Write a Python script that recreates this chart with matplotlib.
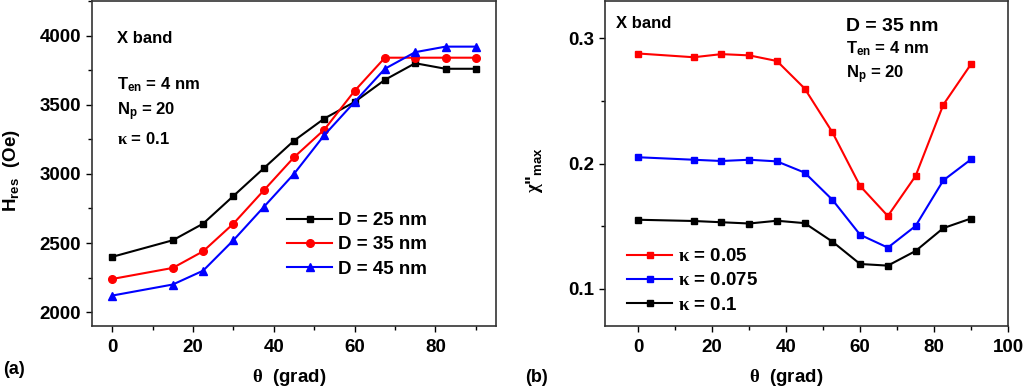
import matplotlib
matplotlib.use("Agg")
import matplotlib.pyplot as plt
from matplotlib.ticker import MultipleLocator

plt.rcParams['font.family'] = ['Liberation Sans', 'DejaVu Sans']
plt.rcParams['font.weight'] = 'bold'
plt.rcParams['mathtext.fontset'] = 'custom'
plt.rcParams['mathtext.rm'] = 'Liberation Serif'
plt.rcParams['mathtext.sf'] = 'Liberation Sans'
plt.rcParams['mathtext.bf'] = 'Liberation Sans:bold'
plt.rcParams['mathtext.default'] = 'bf'

# angles (degrees)
theta = [0, 15, 22.5, 30, 37.5, 45, 52.5, 60, 67.5, 75, 82.5, 90]

# panel (a): resonance field vs angle
h_d25 = [2400, 2520, 2640, 2840, 3040, 3240, 3400, 3520, 3680, 3800, 3760, 3760]
h_d35 = [2240, 2320, 2440, 2640, 2880, 3120, 3320, 3600, 3840, 3840, 3840, 3840]
h_d45 = [2120, 2200, 2300, 2520, 2760, 3000, 3280, 3520, 3760, 3880, 3920, 3920]
labels_a = ['D = 25 nm', 'D = 35 nm', 'D = 45 nm']

# panel (b): chi'' max vs angle
chi_k005 = [0.288, 0.285, 0.2875, 0.2865, 0.282, 0.260, 0.225, 0.182, 0.158, 0.190, 0.247, 0.2795]
chi_k0075 = [0.205, 0.203, 0.202, 0.203, 0.2017, 0.1927, 0.171, 0.143, 0.1327, 0.150, 0.1865, 0.2033]
chi_k01 = [0.155, 0.154, 0.153, 0.152, 0.1542, 0.1523, 0.1375, 0.1196, 0.1183, 0.130, 0.1483, 0.156]
labels_b = ['$\\mathrm{κ}$ = 0.05', '$\\mathrm{κ}$ = 0.075', '$\\mathrm{κ}$ = 0.1']

W, H = 1024, 387
fig = plt.figure(figsize=(W / 100, H / 100), dpi=100)
ax1 = fig.add_axes([92 / W, (H - 326) / H, 404 / W, 325 / H])
ax2 = fig.add_axes([605 / W, (H - 326) / H, 403 / W, 325 / H])

RED, BLUE = '#ff0000', '#0000ff'

ax1.plot(theta, h_d25, '-s', color='k', lw=1.5, ms=5, label=labels_a[0])
ax1.plot(theta, h_d35, '-o', color=RED, lw=1.5, ms=5.5, label=labels_a[1])
ax1.plot(theta, h_d45, '-^', color=BLUE, lw=1.5, ms=6, label=labels_a[2])

ax2.plot(theta, chi_k005, '-s', color=RED, lw=1.5, ms=5, label=labels_b[0])
ax2.plot(theta, chi_k0075, '-s', color=BLUE, lw=1.5, ms=5, label=labels_b[1])
ax2.plot(theta, chi_k01, '-s', color='k', lw=1.5, ms=5, label=labels_b[2])

ax1.set_xlim(-5, 95)
ax1.set_ylim(1900, 4250)
ax1.xaxis.set_major_locator(MultipleLocator(20))
ax1.xaxis.set_minor_locator(MultipleLocator(10))
ax1.yaxis.set_major_locator(MultipleLocator(500))
ax1.yaxis.set_minor_locator(MultipleLocator(250))

ax2.set_xlim(-9, 100)
ax2.set_ylim(0.07, 0.33)
ax2.xaxis.set_major_locator(MultipleLocator(20))
ax2.xaxis.set_minor_locator(MultipleLocator(10))
ax2.yaxis.set_major_locator(MultipleLocator(0.1))
ax2.yaxis.set_minor_locator(MultipleLocator(0.05))

for ax in (ax1, ax2):
    for s in ax.spines.values():
        s.set_linewidth(1.2)
        s.set_color('#333333')
    ax.tick_params(which='major', direction='out', length=4.5, width=1, labelsize=13.5)
    ax.tick_params(axis='y', pad=3.5)
    ax.tick_params(axis='x', pad=4.5)
    ax.tick_params(which='minor', direction='out', length=3, width=1)
    for lab in ax.get_xticklabels() + ax.get_yticklabels():
        lab.set_fontweight('bold')

ax1.set_xlabel('$\\mathrm{θ}$  (grad)', fontsize=13.5, fontweight='bold')
ax1.xaxis.set_label_coords(0.488, -0.126)
ax1.set_ylabel('H$_{\\mathsf{res}}$  (Oe)', fontsize=13.5, fontweight='bold')
ax1.yaxis.set_label_coords(-0.173, 0.478)

ax2.set_xlabel('$\\mathrm{θ}$  (grad)', fontsize=13.5, fontweight='bold')
ax2.xaxis.set_label_coords(0.449, -0.126)
ax2.set_ylabel('$\\mathrm{χ}$"$_{\\mathsf{max}}$', fontsize=13.5, fontweight='bold')
ax2.yaxis.set_label_coords(-0.149, 0.479)

# annotations panel (a)
ax1.text(0.062, 0.886, 'X band', transform=ax1.transAxes, fontsize=12, fontweight='bold', va='center')
ax1.text(0.062, 0.742, 'T$_{en}$ = 4 nm', transform=ax1.transAxes, fontsize=12, fontweight='bold', va='center')
ax1.text(0.062, 0.66, 'N$_{p}$ = 20', transform=ax1.transAxes, fontsize=12, fontweight='bold', va='center')
ax1.text(0.062, 0.576, '$\\mathrm{κ}$ = 0.1', transform=ax1.transAxes, fontsize=12, fontweight='bold', va='center')

# annotations panel (b)
ax2.text(0.027, 0.93, 'X band', transform=ax2.transAxes, fontsize=12, fontweight='bold', va='center')
ax2.text(0.598, 0.923, 'D = 35 nm', transform=ax2.transAxes, fontsize=14, fontweight='bold', va='center')
ax2.text(0.598, 0.852, 'T$_{en}$ = 4 nm', transform=ax2.transAxes, fontsize=12, fontweight='bold', va='center')
ax2.text(0.598, 0.772, 'N$_{p}$ = 20', transform=ax2.transAxes, fontsize=12, fontweight='bold', va='center')

leg_kw = dict(frameon=False, fontsize=13.5, handlelength=2.4, handletextpad=0.3,
              labelspacing=0.38, borderpad=0, borderaxespad=0, loc='upper left')
leg1 = ax1.legend(bbox_to_anchor=(287 / W, (H - 212) / H), bbox_transform=fig.transFigure, **leg_kw)
leg2 = ax2.legend(bbox_to_anchor=(627 / W, (H - 248) / H), bbox_transform=fig.transFigure, **leg_kw)
for leg in (leg1, leg2):
    for t in leg.get_texts():
        t.set_fontweight('bold')

fig.text(3 / W, (H - 370) / H, '(a)', fontsize=13, fontweight='bold', va='center')
fig.text(525 / W, (H - 377) / H, '(b)', fontsize=13, fontweight='bold', va='center')

fig.savefig('out.png', dpi=100)
